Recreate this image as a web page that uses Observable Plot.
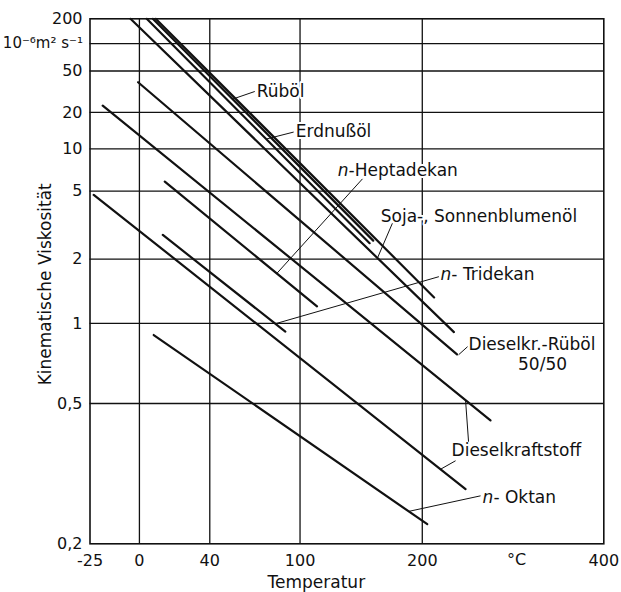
<!DOCTYPE html>
<html><head><meta charset="utf-8">
<script src="https://cdn.jsdelivr.net/npm/d3@7"></script>
<script src="https://cdn.jsdelivr.net/npm/@observablehq/plot@0.6"></script>
<style>
html,body{margin:0;padding:0;background:#fff;}
#chart svg{display:block;}
</style></head><body><div id="chart"></div>
<script>
// ---- axes (temperature in °C, kinematic viscosity in 10^-6 m²/s) ----
const xTicks = [-25, 0, 40, 100, 200, 400];
const xTickLabels = ["-25", "0", "40", "100", "200", "400"];
const xGrid = [0, 40, 100, 200];
const xUnit = "°C";
const xUnitT = 295;
const xTitle = "Temperatur";
const xTitleT = 112;
const yTicks = [200, 50, 20, 10, 5, 2, 1, 0.5, 0.2];
const yTickLabels = ["200", "50", "20", "10", "5", "2", "1", "0,5", "0,2"];
const yUnit = "10⁻⁶m² s⁻¹";
const yUnitNu = 100;
const yGrid = [100, 50, 20, 10, 5, 2, 1, 0.5];
const yTitle = "Kinematische Viskosität";

// ---- series: straight lines, start and end point ----
const seriesNames = ["Rüböl", "Erdnußöl", "Sojaöl", "Sonnenblumenöl", "Dieselkr.-Rüböl 50/50",
  "Dieselkraftstoff 1", "Dieselkraftstoff 2", "n-Heptadekan", "n-Tridekan", "n-Oktan"];
const seriesT = [[7.2, 157], [3.9, 154], [-4.7, 230], [8.8, 211], [-0.7, 233],
  [-18.8, 267], [-23.2, 241.5], [13.8, 112.5], [12.7, 89.5], [7.7, 204.6]];
const seriesNu = [[200, 2.51], [200, 2.43], [200, 0.92], [200, 1.30], [38.4, 0.75],
  [23, 0.44], [4.72, 0.276], [5.79, 1.185], [2.70, 0.924], [0.895, 0.2235]];

// ---- labels ----
const labelPrefix = ["", "", "n", "", "n", "", "", "n"];
const labelTexts = ["Rüböl", "Erdnußöl", "-Heptadekan", "Soja-, Sonnenblumenöl", "- Tridekan",
  "Dieselkr.-Rüböl", "Dieselkraftstoff", "- Oktan"];
const labelT = [69.9, 96.9, 128.4, 163.3, 217.1, 244.5, 227.7, 258.8];
const labelNu = [31.2, 13.7, 6.91, 3.45, 1.667, 0.819, 0.355, 0.2615];
const subLabel = "50/50";
const subLabelT = 324.5;
const subLabelNu = 0.686;

// ---- leader lines ----
const leaderT1 = [54.1, 76.8, 148.1, 173.3, 215.5, 243.5, 244.5, 231.6, 256.7];
const leaderNu1 = [26.4, 11.98, 6.04, 3.15, 1.63, 0.804, 0.3776, 0.3315, 0.2647];
const leaderT2 = [68.6, 95.4, 83.5, 160.5, 82.6, 234.6, 241.5, 217.1, 187.9];
const leaderNu2 = [31.2, 13.6, 1.69, 2.02, 0.997, 0.748, 0.5118, 0.3134, 0.241];

// ---- scale transforms of the chart paper ----
const K = 273.15;                                         // temperature axis: log of absolute temperature
const fy = v => Math.log10(Math.log10(v + 0.1) + 0.93);   // viscosity axis: double-log ruling

const rows = seriesNames.flatMap((name, i) => seriesT[i].map((t, j) => ({name, T: t, nu: seriesNu[i][j]})));
const labels = labelTexts.map((text, i) => ({text, prefix: labelPrefix[i], T: labelT[i], nu: labelNu[i]}));
const leaders = leaderT1.map((t, i) => ({T1: t, nu1: leaderNu1[i], T2: leaderT2[i], nu2: leaderNu2[i]}));
const xMap = new Map(xTicks.map((t, i) => [t + K, xTickLabels[i]]));
const yMap = new Map(yTicks.map((v, i) => [fy(v), yTickLabels[i]]));

const ink = "#111";
const halo = {fill: ink, stroke: "#fff", strokeWidth: 4, paintOrder: "stroke", fontSize: 17};
const lx = d => d.T + K, ly = d => fy(d.nu);
const chart = Plot.plot({
  width: 621, height: 592,
  marginLeft: 89.5, marginRight: 17.7, marginTop: 18.3, marginBottom: 48.7,
  style: {fontFamily: "DejaVu Sans", fontSize: "16px", color: ink, background: "#fff"},
  x: {type: "log", domain: [-25 + K, 400 + K]},
  y: {type: "linear", domain: [fy(0.2), fy(200)]},
  marks: [
    Plot.ruleX(xGrid, {x: t => t + K, stroke: ink, strokeWidth: 1.3}),
    Plot.ruleY(yGrid, {y: v => fy(v), stroke: ink, strokeWidth: 1.3}),
    Plot.frame({stroke: ink, strokeWidth: 1.6}),
    Plot.line(rows, {x: lx, y: ly, z: "name", stroke: ink, strokeWidth: 2.2}),
    Plot.text(labels.filter(d => !d.prefix), {x: lx, y: ly, text: "text", textAnchor: "start", ...halo}),
    Plot.text(labels.filter(d => d.prefix), {x: lx, y: ly, text: "text", textAnchor: "start", dx: 10.8, ...halo}),
    Plot.text(labels.filter(d => d.prefix), {x: lx, y: ly, text: "prefix", textAnchor: "start",
      fontStyle: "italic", ...halo}),
    Plot.text([subLabel], {x: subLabelT + K, y: fy(subLabelNu), text: d => d, ...halo}),
    Plot.link(leaders, {x1: d => d.T1 + K, y1: d => fy(d.nu1), x2: d => d.T2 + K, y2: d => fy(d.nu2),
      stroke: ink, strokeWidth: 1}),
    Plot.axisX(xTicks.map(t => t + K), {tickSize: 0, tickPadding: 11, tickFormat: d => xMap.get(d),
      fontSize: 16, label: null}),
    Plot.axisY(yTicks.map(fy), {tickSize: 0, tickPadding: 7.5, tickFormat: d => yMap.get(d),
      fontSize: 16, label: null}),
    Plot.text([yUnit], {y: fy(yUnitNu), frameAnchor: "left", textAnchor: "end", lineAnchor: "middle",
      dx: -7, text: d => d, fontSize: 15, fill: ink}),
    Plot.text([xUnit], {x: xUnitT + K, frameAnchor: "bottom", lineAnchor: "middle", dy: 16.5,
      text: d => d, fontSize: 16, fill: ink}),
    Plot.text([xTitle], {x: xTitleT + K, frameAnchor: "bottom", lineAnchor: "middle", dy: 39,
      text: d => d, fontSize: 17, fill: ink}),
    Plot.text([yTitle], {frameAnchor: "left", textAnchor: "middle", lineAnchor: "middle", rotate: -90,
      dx: -44.5, dy: 3, text: d => d, fontSize: 17, fill: ink})
  ]
});
document.getElementById("chart").appendChild(chart);
</script>
</body></html>
